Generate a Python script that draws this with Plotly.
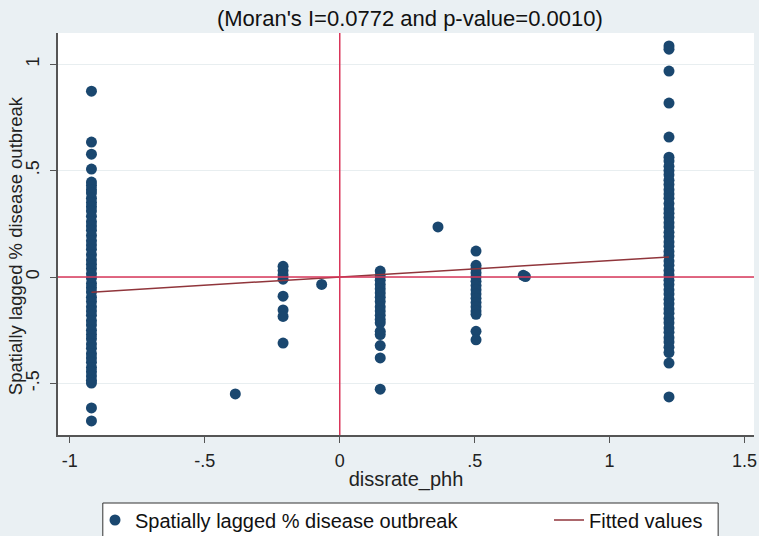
import plotly.graph_objects as go

# ---- data ----
col_m092_x = -0.92
col_m092_y = [0.873, 0.634, 0.577, 0.507,
              0.446, 0.43, 0.41, 0.395, 0.37, 0.35, 0.33, 0.31, 0.285, 0.26, 0.24, 0.22,
              0.195, 0.17, 0.15, 0.13, 0.105, 0.08, 0.06, 0.04, 0.015, -0.005, -0.03,
              -0.05, -0.07, -0.095, -0.115, -0.14, -0.16, -0.18, -0.205, -0.225, -0.25,
              -0.27, -0.29, -0.315, -0.335, -0.36, -0.38, -0.4, -0.425, -0.445, -0.465,
              -0.485, -0.498, -0.615, -0.676]

col_m021_x = -0.21
col_m021_y = [0.05, 0.03, 0.01, -0.01, -0.09, -0.155, -0.185, -0.31]

single_x = [-0.387, -0.067, 0.364, 0.68, 0.688]
single_y = [-0.549, -0.035, 0.235, 0.008, 0.002]

col_015_x = 0.15
col_015_y = [0.028, 0.005, -0.015, -0.035, -0.055, -0.075, -0.095, -0.115, -0.14,
             -0.16, -0.18, -0.2, -0.215, -0.255, -0.27, -0.322, -0.38, -0.527]

col_050_x = 0.505
col_050_y = [0.122, 0.055, 0.04, 0.02, 0.0, -0.02, -0.04, -0.06, -0.08, -0.1, -0.12,
             -0.14, -0.16, -0.175, -0.255, -0.295]

col_122_x = 1.22
col_122_y = [1.085, 1.07, 0.967, 0.817, 0.657,
             0.563, 0.545, 0.52, 0.5, 0.48, 0.455, 0.435, 0.41, 0.39, 0.37, 0.345, 0.32,
             0.3, 0.28, 0.255, 0.235, 0.21, 0.19, 0.165, 0.145, 0.12, 0.1, 0.075, 0.055,
             0.03, 0.01, -0.015, -0.035, -0.06, -0.08, -0.105, -0.125, -0.15, -0.17,
             -0.195, -0.215, -0.24, -0.26, -0.285, -0.305, -0.33, -0.355, -0.404, -0.563]

fit_intercept = 0.0
fit_slope = 0.0772

x_ticks = [-1, -0.5, 0, 0.5, 1, 1.5]
x_ticktext = ["-1", "-.5", "0", ".5", "1", "1.5"]
y_ticks = [-0.5, 0, 0.5, 1]
y_ticktext = ["-.5", "0", ".5", "1"]

title_text = "(Moran's I=0.0772 and p-value=0.0010)"
x_title = "dissrate_phh"
y_title = "Spatially lagged % disease outbreak"
scatter_name = "Spatially lagged % disease outbreak"
fit_name = "Fitted values"

# ---- assemble ----
xs, ys = [], []
for cx, cy in [(col_m092_x, col_m092_y), (col_m021_x, col_m021_y),
               (col_015_x, col_015_y), (col_050_x, col_050_y), (col_122_x, col_122_y)]:
    xs += [cx] * len(cy)
    ys += cy
xs += single_x
ys += single_y

x_min, x_max = min(xs), max(xs)
fit_x = [x_min, x_max]
fit_y = [fit_intercept + fit_slope * v for v in fit_x]

NAVY = "#1a476f"
MAROON = "#90353b"
REF = "#d9365a"
BG = "#eaf0f3"
FONT = "Arial, Liberation Sans, sans-serif"

W, H = 759, 536
L, R, T, B = 58, 2, 33, 101
pw, ph = W - L - R, H - T - B


def px_to_paper_x(px):
    return (px - L) / pw


def px_to_paper_y(py):
    return (H - B - py) / ph


fig = go.Figure()
fig.add_trace(go.Scatter(x=xs, y=ys, mode="markers", name=scatter_name, legend="legend",
                         marker=dict(color=NAVY, size=11, line=dict(width=0))))
fig.add_trace(go.Scatter(x=fit_x, y=fit_y, mode="lines", name=fit_name, legend="legend2",
                         line=dict(color=MAROON, width=1.5)))

fig.add_hline(y=0, line=dict(color=REF, width=1.5), layer="above")
fig.add_vline(x=0, line=dict(color=REF, width=1.5), layer="above")

# legend frame
fig.add_shape(type="rect", xref="paper", yref="paper",
              x0=px_to_paper_x(103), x1=px_to_paper_x(721),
              y0=px_to_paper_y(545), y1=px_to_paper_y(503),
              line=dict(color="#333", width=1), fillcolor="white", layer="below")

# y-axis title (placed like the reference, slightly below the plot-centre)
fig.add_annotation(text=y_title, textangle=-90, xref="paper", yref="paper",
                   x=px_to_paper_x(15), y=px_to_paper_y(246), xanchor="center",
                   yanchor="middle", showarrow=False,
                   font=dict(size=18.5, color="#222"))

fig.update_layout(
    width=W, height=H,
    margin=dict(l=L, r=R, t=T, b=B),
    paper_bgcolor=BG, plot_bgcolor="white",
    font=dict(family=FONT, size=18, color="#222"),
    title=dict(text=title_text, x=0.54, xanchor="center", y=1 - 18 / H, yanchor="middle",
               font=dict(size=22, color="#111")),
    showlegend=True,
    legend=dict(orientation="h", xref="container", yref="container",
                x=(117 - 22) / W, xanchor="left", y=1 - 520 / H, yanchor="middle",
                bgcolor="rgba(0,0,0,0)", borderwidth=0,
                font=dict(size=20, color="#111")),
    legend2=dict(orientation="h", xref="container", yref="container",
                 x=708 / W, xanchor="right", y=1 - 520 / H, yanchor="middle",
                 bgcolor="rgba(0,0,0,0)", borderwidth=0,
                 font=dict(size=20, color="#111")),
)
fig.update_xaxes(range=[-1.044, 1.535], tickvals=x_ticks, ticktext=x_ticktext,
                 showgrid=False, zeroline=False, showline=True, linecolor="#555",
                 linewidth=1.5, ticks="outside", ticklen=6, tickcolor="#555",
                 tickfont=dict(size=18), ticklabelstandoff=3, ticklabeloverflow="allow",
                 title=dict(text=x_title, font=dict(size=20), standoff=2))
fig.update_yaxes(range=[-0.742, 1.146], tickvals=y_ticks, ticktext=y_ticktext,
                 showgrid=True, gridcolor="#e8eef0", gridwidth=1, zeroline=False,
                 showline=True, linecolor="#555", linewidth=1.5, ticks="outside",
                 ticklen=6, tickcolor="#555", tickangle=-90, tickfont=dict(size=18),
                 ticklabelstandoff=4)

fig.write_html("out.html")
